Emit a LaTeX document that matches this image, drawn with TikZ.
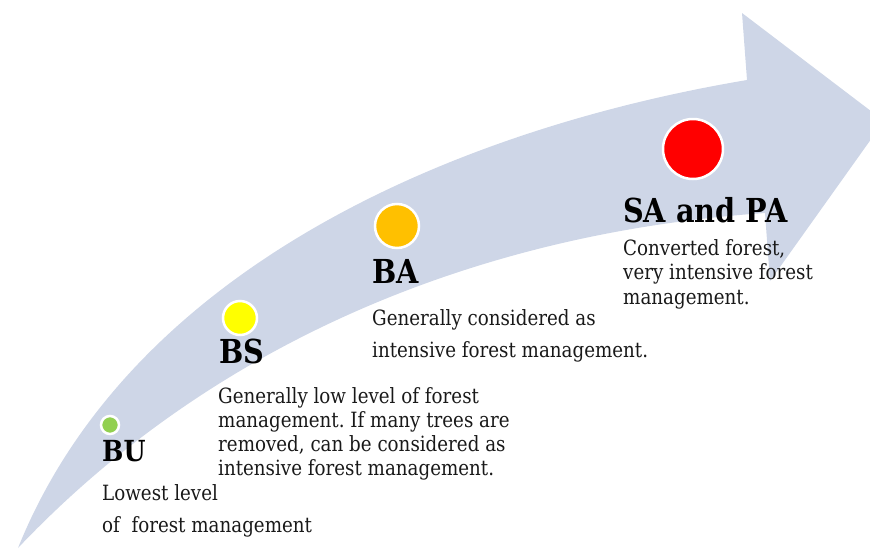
\documentclass[tikz,border=0pt]{standalone}
\usepackage{fontspec}
\setmainfont{DejaVu Serif}[FakeStretch=0.87]
\frenchspacing
\definecolor{band}{RGB}{206,214,231}
\definecolor{cgreen}{RGB}{146,208,80}
\definecolor{cyellow}{RGB}{255,255,0}
\definecolor{corange}{RGB}{255,192,0}
\definecolor{cred}{RGB}{255,0,0}
\definecolor{txt}{RGB}{25,25,25}
\begin{document}
\begin{tikzpicture}[x=1pt,y=-1pt,
  dot/.style={circle, draw=white, line width=2.5pt, inner sep=0pt},
  ttl/.style={anchor=base west, inner sep=0pt, text=black, font=\fontsize{33}{36}\selectfont\bfseries},
  desc/.style={anchor=base west, inner sep=0pt, text=txt, font=\fontsize{21}{23}\selectfont}]
\useasboundingbox (0,0) rectangle (870,549);
\clip (0,0) rectangle (870,549);
% arrow band
\fill[band] (18,548) .. controls (130,270) and (450,130) .. (747,80)
  -- (742,13) -- (884,121) -- (770,281) -- (765,213)
  .. controls (490,232) and (220,335) .. (18,548) -- cycle;
% dots
\node[dot, fill=cgreen, minimum size=18pt] (gdot) at (110,425) {};
\node[dot, fill=cyellow, minimum size=34pt] (ydot) at (240,318) {};
\node[dot, fill=corange, minimum size=44pt] (odot) at (397,226) {};
\node[dot, fill=cred, minimum size=60pt] (rdot) at (693,149) {};
% titles
\node[ttl, font=\fontsize{29}{32}\selectfont\bfseries] (bu) at (102,461) {BU};
\node[ttl] (bs) at (219,363) {BS};
\node[ttl] (ba) at (372,283) {BA};
\node[ttl] (sa) at (623,222) {SA and PA};
% descriptions
\node[desc] (bu1) at (102,500) {Lowest level};
\node[desc] (bu2) at (102,532) {of\ \ forest management};
\node[desc] (bs1) at (218,403) {Generally low level of forest};
\node[desc] (bs2) at (218,427) {management. If many trees are};
\node[desc] (bs3) at (218,451) {removed, can be considered as};
\node[desc] (bs4) at (218,475) {intensive forest management.};
\node[desc] (ba1) at (372,325) {Generally considered as};
\node[desc] (ba2) at (372,357) {intensive forest management.};
\node[desc] (sa1) at (623,255) {Converted forest,};
\node[desc] (sa2) at (623,279) {very intensive forest};
\node[desc] (sa3) at (623,304) {management.};
\end{tikzpicture}
\end{document}
